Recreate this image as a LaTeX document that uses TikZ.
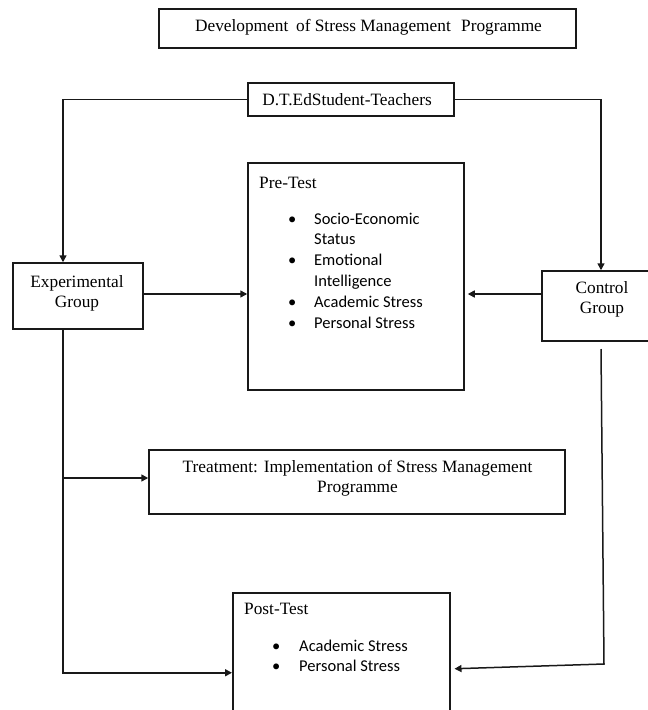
\documentclass[tikz,border=0pt]{standalone}
\usepackage{fontspec}
\setmainfont{Liberation Serif}
\newfontfamily\calfont{Carlito}
\usetikzlibrary{arrows.meta}
\begin{document}
\begin{tikzpicture}[x=1pt,y=-1pt,
  boxnode/.style={draw=black!90, line width=1.5pt, inner sep=0pt},
  lbl/.style={font=\fontsize{17.3}{20}\selectfont, align=center, inner sep=0pt},
  lst/.style={font=\calfont\fontsize{16.5}{20.8}\selectfont, inner sep=0pt, anchor=base west},
  conn/.style={line width=1.5pt, draw=black!90},
  arr/.style={conn, -{Triangle[length=7pt,width=7pt]}}]
\clip (0,0) rectangle (648,710);
\fill[white] (0,0) rectangle (648,710);
% boxes
\node[boxnode, minimum width=417pt, minimum height=39pt] (title) at (367.5,28.5) {};
\node[lbl] (titletxt) at (368.5,27) {Development\hspace{0.45em}of Stress Management\hspace{0.6em}Programme};
\node[boxnode, minimum width=206pt, minimum height=33pt] (dted) at (351,99.5) {};
\node[lbl] (dtedtxt) at (347,100) {D.T.EdStudent-Teachers};
\node[boxnode, minimum width=130pt, minimum height=66pt] (exp) at (78,296) {};
\node[lbl] (exptxt) at (77,293) {Experimental\\Group};
\node[boxnode, minimum width=216pt, minimum height=227pt] (pre) at (356,276.5) {};
\node[lbl, anchor=base west] (pretitle) at (259,188) {Pre-Test};
\node[lst] (prelist) at (288,224) {\begin{tabular}[t]{@{}p{26pt}@{}l@{}}•&Socio-Economic\\&Status\\•&Emotional\\&Intelligence\\•&Academic Stress\\•&Personal Stress\end{tabular}};
\node[boxnode, minimum width=118pt, minimum height=70pt] (ctrl) at (601,306) {};
\node[lbl] (ctrltxt) at (602,299) {Control\\Group};
\node[boxnode, minimum width=416pt, minimum height=64pt] (treat) at (357,482) {};
\node[lbl] (treattxt) at (357.5,478) {Treatment: Implementation of Stress Management\\Programme};
\node[boxnode, minimum width=217pt, minimum height=160pt, anchor=north west] (post) at (232,592) {};
\node[lbl, anchor=base west] (posttitle) at (244,614) {Post-Test};
\node[lst] (postlist) at (272,651) {\begin{tabular}[t]{@{}p{27pt}@{}l@{}}•&Academic Stress\\•&Personal Stress\end{tabular}};
% connectors
\coordinate (lx) at (63,100);
\coordinate (rx) at (601,100);
\coordinate (ay) at (0,294);
\coordinate (ty) at (0,478);
\coordinate (c1) at (601,349);
\coordinate (c2) at (604,664);
\draw[arr] (dted.west) -| (exp.north -| lx);
\draw[arr] (dted.east) -| (ctrl.north -| rx);
\draw[arr] (exp.east |- ay) -- (pre.west |- ay);
\draw[arr] (ctrl.west |- ay) -- ([xshift=3pt]pre.east |- ay);
\draw[arr] (exp.south -| lx) |- (post.west);
\draw[arr] (lx |- ty) -- (treat.west |- ty);
\draw[arr] (c1) -- (c2) -- ([xshift=4pt,yshift=4pt]post.east);
\end{tikzpicture}
\end{document}
